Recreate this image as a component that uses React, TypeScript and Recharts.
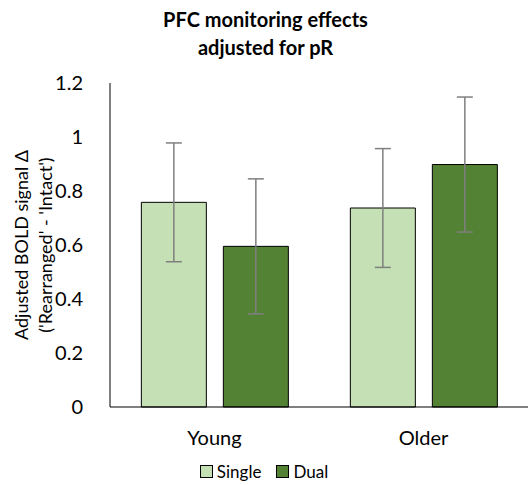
import React from 'react';
import { BarChart, Bar, XAxis, YAxis, ErrorBar, Legend, Label } from 'recharts';

const groups = ['Young', 'Older'];
const singleValues = [0.758, 0.737];
const singleErrors = [0.22, 0.22];
const dualValues = [0.595, 0.898];
const dualErrors = [0.25, 0.25];
const yTicks = [0, 0.2, 0.4, 0.6, 0.8, 1, 1.2];

const FONT = 'Lato, "Open Sans", sans-serif';
const LIGHT = '#c5e0b4';
const DARK = '#548235';

const data = groups.map((group, i) => ({
  group,
  single: singleValues[i],
  singleErr: singleErrors[i],
  dual: dualValues[i],
  dualErr: dualErrors[i],
}));

const legendItems = [
  { name: 'Single', color: LIGHT },
  { name: 'Dual', color: DARK },
];

const LegendContent = () => (
  <div style={{ display: 'flex', justifyContent: 'center', gap: 15, fontFamily: FONT, fontSize: 17, color: '#000', height: 28, alignItems: 'center' }}>
    {legendItems.map(item => (
      <div key={item.name} style={{ display: 'flex', alignItems: 'center', gap: 4 }}>
        <span style={{ width: 11, height: 11, background: item.color, border: '1px solid #000', display: 'inline-block' }} />
        <span>{item.name}</span>
      </div>
    ))}
  </div>
);

// two-line rotated axis title, centred on the plot height
const YLabel = (props: any) => {
  const vb = props.viewBox || {};
  const cy = vb.y + vb.height / 2;
  return (
    <text transform={`translate(0, ${cy}) rotate(-90)`} textAnchor="middle" fontFamily={FONT} fontSize={18} fill="#000">
      <tspan x={0} y={28}>Adjusted BOLD signal Δ</tspan>
      <tspan x={0} y={52}>('Rearranged' - 'Intact')</tspan>
    </text>
  );
};

export default function App() {
  return (
    <div style={{ position: 'absolute', left: 0, top: 0, width: 531, height: 485, background: '#fff' }}>
      <div style={{ position: 'absolute', left: 0, width: 531, top: 5, textAlign: 'center', fontFamily: FONT, fontWeight: 700, fontSize: 20, lineHeight: '28px', color: '#000' }}>
        PFC monitoring effects
        <br />
        adjusted for pR
      </div>
      <BarChart
        width={531}
        height={485}
        data={data}
        margin={{ top: 83, right: 3, bottom: 0, left: 0 }}
        barCategoryGap="15%"
        barGap={17}
      >
        <XAxis
          dataKey="group"
          axisLine={{ stroke: '#000' }}
          tickLine={false}
          tick={{ fill: '#000', fontSize: 20, fontFamily: FONT }}
          tickMargin={18}
          height={50}
        />
        <YAxis
          domain={[0, 1.2]}
          ticks={yTicks}
          width={110}
          axisLine={{ stroke: '#000' }}
          tickLine={false}
          tick={{ fill: '#000', fontSize: 20, fontFamily: FONT }}
          tickMargin={21}
        >
          <Label content={<YLabel />} />
        </YAxis>
        <Legend verticalAlign="bottom" height={28} content={<LegendContent />} />
        <Bar dataKey="single" name="Single" fill={LIGHT} stroke="#000" strokeWidth={1} isAnimationActive={false}>
          <ErrorBar dataKey="singleErr" width={8} stroke="#7f7f7f" strokeWidth={1.5} />
        </Bar>
        <Bar dataKey="dual" name="Dual" fill={DARK} stroke="#000" strokeWidth={1} isAnimationActive={false}>
          <ErrorBar dataKey="dualErr" width={8} stroke="#7f7f7f" strokeWidth={1.5} />
        </Bar>
      </BarChart>
    </div>
  );
}
